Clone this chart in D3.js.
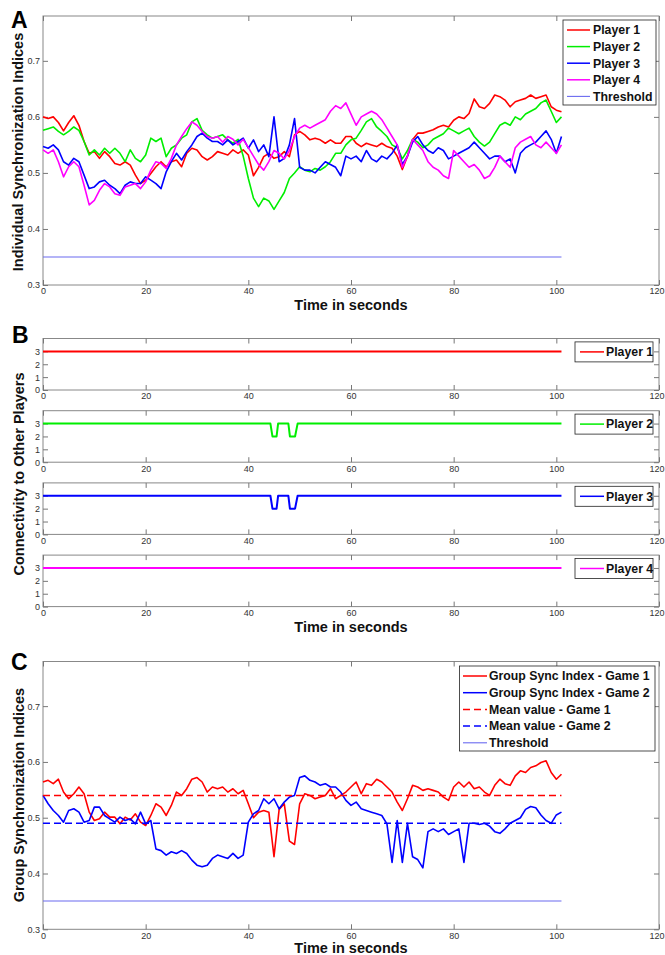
<!DOCTYPE html>
<html>
<head>
<meta charset="utf-8">
<script src="https://cdn.jsdelivr.net/npm/d3@7"></script>
<style>
  body { margin: 0; background: #fff; }
  svg { font-family: "Liberation Sans", Arial, sans-serif; }
</style>
</head>
<body>
<script>
// Time axis (seconds), one sample per second
const seconds = d3.range(0, 102);

// Panel A: individual synchronization indices
const player1Sync = [
  0.600, 0.597, 0.600, 0.590, 0.575, 0.590, 0.602, 0.585, 0.556, 0.535,
  0.538, 0.526, 0.538, 0.529, 0.517, 0.514, 0.520, 0.514, 0.496, 0.481,
  0.487, 0.499, 0.511, 0.520, 0.511, 0.520, 0.523, 0.511, 0.535, 0.544,
  0.541, 0.529, 0.523, 0.529, 0.538, 0.535, 0.532, 0.541, 0.535, 0.541,
  0.532, 0.495, 0.510, 0.529, 0.535, 0.526, 0.529, 0.538, 0.529, 0.568,
  0.574, 0.568, 0.559, 0.562, 0.559, 0.553, 0.559, 0.553, 0.553, 0.565,
  0.565, 0.553, 0.547, 0.553, 0.550, 0.547, 0.553, 0.547, 0.544, 0.530,
  0.506, 0.530, 0.559, 0.571, 0.571, 0.574, 0.577, 0.582, 0.585, 0.582,
  0.594, 0.600, 0.597, 0.606, 0.632, 0.618, 0.615, 0.624, 0.639, 0.636,
  0.630, 0.618, 0.627, 0.630, 0.633, 0.639, 0.633, 0.636, 0.639, 0.618,
  0.612, 0.609
];
const player2Sync = [
  0.576, 0.579, 0.582, 0.574, 0.568, 0.574, 0.582, 0.576, 0.556, 0.532,
  0.541, 0.532, 0.544, 0.535, 0.544, 0.535, 0.520, 0.541, 0.526, 0.520,
  0.532, 0.562, 0.556, 0.562, 0.529, 0.544, 0.550, 0.562, 0.568, 0.591,
  0.597, 0.576, 0.568, 0.562, 0.565, 0.568, 0.559, 0.553, 0.560, 0.530,
  0.490, 0.455, 0.440, 0.455, 0.450, 0.435, 0.450, 0.465, 0.490, 0.500,
  0.511, 0.505, 0.502, 0.508, 0.505, 0.511, 0.520, 0.535, 0.535, 0.550,
  0.559, 0.562, 0.576, 0.591, 0.597, 0.582, 0.574, 0.565, 0.550, 0.545,
  0.525, 0.540, 0.560, 0.555, 0.545, 0.550, 0.560, 0.565, 0.570, 0.580,
  0.575, 0.570, 0.575, 0.580, 0.565, 0.555, 0.548, 0.555, 0.570, 0.585,
  0.590, 0.585, 0.600, 0.595, 0.605, 0.610, 0.615, 0.625, 0.630, 0.610,
  0.590, 0.600
];
const player3Sync = [
  0.547, 0.544, 0.550, 0.541, 0.520, 0.514, 0.526, 0.520, 0.496, 0.472,
  0.475, 0.484, 0.487, 0.478, 0.472, 0.463, 0.478, 0.484, 0.481, 0.481,
  0.493, 0.487, 0.481, 0.472, 0.502, 0.520, 0.535, 0.523, 0.538, 0.550,
  0.565, 0.571, 0.562, 0.556, 0.556, 0.550, 0.559, 0.550, 0.556, 0.562,
  0.544, 0.559, 0.538, 0.550, 0.529, 0.600, 0.520, 0.526, 0.550, 0.597,
  0.510, 0.505, 0.505, 0.500, 0.510, 0.520, 0.515, 0.510, 0.495, 0.530,
  0.525, 0.530, 0.520, 0.540, 0.525, 0.520, 0.530, 0.525, 0.535, 0.550,
  0.515, 0.530, 0.555, 0.565, 0.550, 0.540, 0.535, 0.545, 0.540, 0.525,
  0.530, 0.535, 0.540, 0.545, 0.555, 0.545, 0.535, 0.525, 0.530, 0.530,
  0.520, 0.525, 0.500, 0.535, 0.545, 0.550, 0.555, 0.565, 0.575, 0.560,
  0.535, 0.565
];
const player4Sync = [
  0.541, 0.535, 0.541, 0.520, 0.493, 0.511, 0.520, 0.511, 0.478, 0.443,
  0.451, 0.469, 0.481, 0.475, 0.463, 0.460, 0.475, 0.478, 0.481, 0.472,
  0.484, 0.505, 0.520, 0.517, 0.508, 0.526, 0.550, 0.565, 0.579, 0.591,
  0.585, 0.574, 0.565, 0.562, 0.565, 0.555, 0.565, 0.560, 0.550, 0.560,
  0.545, 0.530, 0.515, 0.505, 0.520, 0.540, 0.535, 0.525, 0.540, 0.565,
  0.580, 0.585, 0.580, 0.585, 0.590, 0.595, 0.610, 0.620, 0.615, 0.625,
  0.605, 0.585, 0.600, 0.605, 0.610, 0.605, 0.595, 0.580, 0.565, 0.550,
  0.510, 0.530, 0.560, 0.550, 0.540, 0.520, 0.510, 0.505, 0.495, 0.490,
  0.540, 0.530, 0.520, 0.510, 0.515, 0.505, 0.490, 0.495, 0.510, 0.530,
  0.520, 0.510, 0.545, 0.555, 0.560, 0.565, 0.550, 0.545, 0.555, 0.545,
  0.535, 0.550
];
const threshold = 0.35;

// Panel B: connectivity to other players (change points)
const connTimes = [0, 44.3, 44.7, 45.5, 45.8, 47.8, 48.1, 49.1, 49.6, 101];
const player1Conn = [3, 3, 3, 3, 3, 3, 3, 3, 3, 3];
const player2Conn = [3, 3, 2, 2, 3, 3, 2, 2, 3, 3];
const player3Conn = [3, 3, 2, 2, 3, 3, 2, 2, 3, 3];
const player4Conn = [3, 3, 3, 3, 3, 3, 3, 3, 3, 3];

// Panel C: group synchronization indices
const game1Sync = [
  0.564, 0.567, 0.561, 0.569, 0.546, 0.534, 0.543, 0.555, 0.543, 0.510,
  0.495, 0.498, 0.510, 0.501, 0.501, 0.489, 0.501, 0.496, 0.507, 0.492,
  0.486, 0.504, 0.525, 0.519, 0.504, 0.522, 0.546, 0.540, 0.552, 0.569,
  0.572, 0.564, 0.546, 0.555, 0.552, 0.555, 0.546, 0.552, 0.543, 0.549,
  0.525, 0.500, 0.510, 0.513, 0.510, 0.430, 0.515, 0.525, 0.458, 0.452,
  0.525, 0.543, 0.540, 0.534, 0.537, 0.540, 0.552, 0.534, 0.540, 0.546,
  0.555, 0.564, 0.543, 0.561, 0.558, 0.569, 0.564, 0.555, 0.546, 0.528,
  0.513, 0.534, 0.558, 0.555, 0.549, 0.552, 0.549, 0.546, 0.537, 0.531,
  0.555, 0.564, 0.555, 0.564, 0.552, 0.555, 0.546, 0.540, 0.558, 0.569,
  0.561, 0.558, 0.575, 0.584, 0.581, 0.590, 0.593, 0.599, 0.602, 0.581,
  0.569, 0.578
];
const game2Sync = [
  0.540, 0.525, 0.513, 0.504, 0.492, 0.513, 0.516, 0.510, 0.492, 0.495,
  0.519, 0.519, 0.504, 0.498, 0.492, 0.501, 0.495, 0.498, 0.489, 0.510,
  0.489, 0.495, 0.444, 0.441, 0.433, 0.439, 0.436, 0.441, 0.436, 0.424,
  0.415, 0.412, 0.415, 0.427, 0.433, 0.430, 0.427, 0.436, 0.427, 0.433,
  0.492, 0.507, 0.513, 0.534, 0.525, 0.534, 0.516, 0.528, 0.537, 0.540,
  0.572, 0.575, 0.567, 0.564, 0.558, 0.561, 0.555, 0.555, 0.546, 0.531,
  0.522, 0.528, 0.516, 0.513, 0.510, 0.507, 0.504, 0.489, 0.420, 0.495,
  0.420, 0.490, 0.430, 0.425, 0.410, 0.475, 0.480, 0.475, 0.480, 0.470,
  0.475, 0.480, 0.420, 0.490, 0.490, 0.488, 0.490, 0.485, 0.475, 0.472,
  0.480, 0.490, 0.495, 0.500, 0.515, 0.520, 0.518, 0.505, 0.495, 0.490,
  0.505, 0.510
];
const meanGame1 = 0.54;
const meanGame2 = 0.49;

// Ticks
const timeTicks = [0, 20, 40, 60, 80, 100, 120];
const syncTicks = [0.3, 0.4, 0.5, 0.6, 0.7];
const connTicks = [0, 1, 2, 3];

const RED = "#ff0000", GREEN = "#00ee00", BLUE = "#0000ff", MAGENTA = "#ff00ff", THRESH = "#6a6af0";

const svg = d3.select("body").append("svg")
    .attr("width", 665)
    .attr("height", 955);

const x = d3.scaleLinear().domain([0, 120]).range([43, 659]);

// Draw axes box with inward ticks on all sides
function drawFrame(y, yTicks, yFmt, top, bottom) {
    const g = svg.append("g");
    g.append("rect")
        .attr("x", x(0)).attr("y", top)
        .attr("width", x(120) - x(0)).attr("height", bottom - top)
        .attr("fill", "none").attr("stroke", "#888").attr("stroke-width", 1);

    const axes = [
        [d3.axisBottom(x).tickValues(timeTicks).tickFormat(d3.format("d")), `translate(0,${bottom})`],
        [d3.axisTop(x).tickValues(timeTicks).tickFormat(""), `translate(0,${top})`],
        [d3.axisLeft(y).tickValues(yTicks).tickFormat(yFmt), `translate(${x(0)},0)`],
        [d3.axisRight(y).tickValues(yTicks).tickFormat(""), `translate(${x(120)},0)`]
    ];
    axes.forEach(([ax, tr], k) => {
        const a = g.append("g").attr("transform", tr)
            .call(ax.tickSize(-5).tickPadding(3));
        a.select(".domain").remove();
        a.selectAll("line").attr("stroke", "#777");
        a.selectAll("text")
            .attr("font-size", 9)
            .attr("font-family", "Liberation Sans, Arial, sans-serif")
            .attr("fill", "#333");
        // keep the last time label inside the page
        if (k === 0) {
            a.selectAll(".tick").filter(d => d === 120).select("text").attr("dx", -2.5);
        }
    });
    return g;
}

function legend(x0, y0, w, h, items, lineX, textX, step) {
    const g = svg.append("g");
    g.append("rect")
        .attr("x", x0).attr("y", y0).attr("width", w).attr("height", h)
        .attr("fill", "#fff").attr("stroke", "#222").attr("stroke-width", 0.8);
    items.forEach((it, i) => {
        const cy = y0 + 10 + i * step;
        g.append("line")
            .attr("x1", lineX[0]).attr("x2", lineX[1])
            .attr("y1", cy).attr("y2", cy)
            .attr("stroke", it.color)
            .attr("stroke-width", it.width || 1.5)
            .attr("stroke-dasharray", it.dash || null);
        g.append("text")
            .attr("x", textX).attr("y", cy + 4.3)
            .attr("font-size", 12.3).attr("font-weight", "bold")
            .attr("fill", "#111")
            .text(it.label);
    });
}

function axisLabels(xLabelY, yLabelX, yLabelY, yText) {
    svg.append("text")
        .attr("x", 351).attr("y", xLabelY)
        .attr("text-anchor", "middle")
        .attr("font-size", 14.5).attr("font-weight", "bold")
        .attr("fill", "#111")
        .text("Time in seconds");
    svg.append("text")
        .attr("transform", `translate(${yLabelX},${yLabelY}) rotate(-90)`)
        .attr("text-anchor", "middle")
        .attr("font-size", 14.5).attr("font-weight", "bold")
        .attr("fill", "#111")
        .text(yText);
}

function panelLetter(letter, px, py) {
    svg.append("text")
        .attr("x", px).attr("y", py)
        .attr("font-size", 23).attr("font-weight", "bold")
        .attr("fill", "#000")
        .text(letter);
}

const zip = vals => seconds.map((t, i) => ({ t: t, v: vals[i] }));

// ---------- Panel A ----------
const yA = d3.scaleLinear().domain([0.3, 0.78]).range([285, 16]);
drawFrame(yA, syncTicks, d3.format(".1f"), 16, 285);

const lineA = d3.line().x(d => x(d.t)).y(d => yA(d.v));
const seriesA = [
    { label: "Player 1", color: RED, values: player1Sync },
    { label: "Player 2", color: GREEN, values: player2Sync },
    { label: "Player 3", color: BLUE, values: player3Sync },
    { label: "Player 4", color: MAGENTA, values: player4Sync }
];
svg.append("g").selectAll("path")
    .data(seriesA)
    .enter()
    .append("path")
    .attr("d", d => lineA(zip(d.values)))
    .attr("fill", "none")
    .attr("stroke", d => d.color)
    .attr("stroke-width", 1.6)
    .attr("stroke-linejoin", "round");

// threshold sits on a pixel boundary so it spreads softly over two rows
svg.append("line")
    .attr("x1", x(0)).attr("x2", x(101))
    .attr("y1", Math.round(yA(threshold))).attr("y2", Math.round(yA(threshold)))
    .attr("stroke", THRESH).attr("stroke-width", 1.1);

legend(563, 20, 93, 85,
    seriesA.map(s => ({ label: s.label, color: s.color }))
        .concat([{ label: "Threshold", color: THRESH, width: 1.1 }]),
    [567, 590], 593, 16.6);

axisLabels(310, 23, 152, "Individual Synchronization Indices");
panelLetter("A", 11, 28);

// ---------- Panel B ----------
const bTops = [338.5, 410.7, 482.9, 555.1];
const bHeight = 51.5;
const seriesB = [
    { label: "Player 1", color: RED, values: player1Conn },
    { label: "Player 2", color: GREEN, values: player2Conn },
    { label: "Player 3", color: BLUE, values: player3Conn },
    { label: "Player 4", color: MAGENTA, values: player4Conn }
];
seriesB.forEach((s, i) => {
    const top = bTops[i], bottom = top + bHeight;
    const yB = d3.scaleLinear().domain([0, 4]).range([bottom, top]);
    drawFrame(yB, connTicks, d3.format("d"), top, bottom);
    const lineB = d3.line().x(d => x(d.t)).y(d => yB(d.v));
    svg.append("path")
        .attr("d", lineB(connTimes.map((t, j) => ({ t: t, v: s.values[j] }))))
        .attr("fill", "none")
        .attr("stroke", s.color)
        .attr("stroke-width", 2)
        .attr("stroke-linejoin", "round");
    legend(575, top + 3.4, 78, 20, [{ label: s.label, color: s.color }],
        [580, 604], 606, 0);
});
axisLabels(631.5, 24, 474, "Connectivity to Other Players");
panelLetter("B", 12, 343);

// ---------- Panel C ----------
const yC = d3.scaleLinear().domain([0.3, 0.78]).range([929.3, 661.5]);
drawFrame(yC, syncTicks, d3.format(".1f"), 661.5, 929.3);

const lineC = d3.line().x(d => x(d.t)).y(d => yC(d.v));
const seriesC = [
    { label: "Group Sync Index - Game 1", color: RED, values: game1Sync },
    { label: "Group Sync Index - Game 2", color: BLUE, values: game2Sync }
];
svg.append("g").selectAll("path")
    .data(seriesC)
    .enter()
    .append("path")
    .attr("d", d => lineC(zip(d.values)))
    .attr("fill", "none")
    .attr("stroke", d => d.color)
    .attr("stroke-width", 1.6)
    .attr("stroke-linejoin", "round");

const refLines = [
    { v: meanGame1, color: RED, dash: "7,4", width: 1.5 },
    { v: meanGame2, color: BLUE, dash: "7,4", width: 1.5 },
    { v: threshold, color: THRESH, dash: null, width: 1.1 }
];
refLines.forEach(r => {
    const yy = r.dash ? yC(r.v) : Math.round(yC(r.v));
    svg.append("line")
        .attr("x1", x(0)).attr("x2", x(101))
        .attr("y1", yy).attr("y2", yy)
        .attr("stroke", r.color)
        .attr("stroke-width", r.width)
        .attr("stroke-dasharray", r.dash);
});

legend(459.5, 666, 195.5, 85, [
    { label: "Group Sync Index - Game 1", color: RED },
    { label: "Group Sync Index - Game 2", color: BLUE },
    { label: "Mean value - Game 1", color: RED, dash: "7,4" },
    { label: "Mean value - Game 2", color: BLUE, dash: "7,4" },
    { label: "Threshold", color: THRESH, width: 1.1 }
], [463, 487], 489, 16.7);

axisLabels(953, 24, 795, "Group Synchronization Indices");
panelLetter("C", 11, 670);
</script>
</body>
</html>
